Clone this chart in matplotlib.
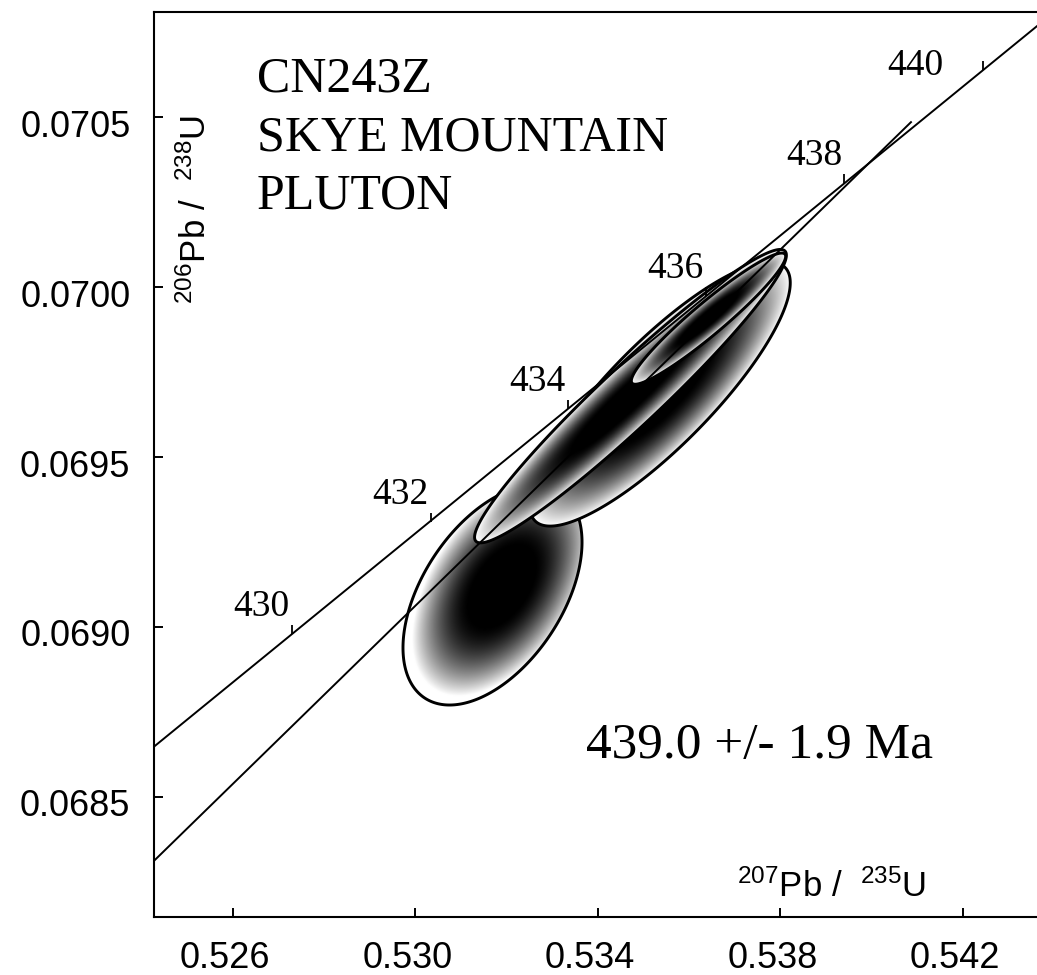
import numpy as np
import matplotlib
matplotlib.use('Agg')
import matplotlib.pyplot as plt
from matplotlib.path import Path
from matplotlib.patches import PathPatch
from matplotlib.transforms import ScaledTranslation

# ---------------- data ----------------
conc_age = [430, 432, 434, 436, 438, 440]
conc_x = [0.52730, 0.53033, 0.53335, 0.53637, 0.53940, 0.54244]
conc_y = [0.068980, 0.069310, 0.069642, 0.069973, 0.070305, 0.070638]

disc_x = [0.52400, 0.54086]
disc_y = [0.068277, 0.070485]

# ellipses: 207/235, 206/238, half-extent x, half-extent y, error correlation
ell_x = [0.531688, 0.535359, 0.534712, 0.536422]
ell_y = [0.069094, 0.069685, 0.069679, 0.069907]
ell_ex = [0.001962, 0.002855, 0.003417, 0.001691]
ell_ey = [0.0003235, 0.0003882, 0.0004315, 0.0001929]
ell_rho = [0.48, 0.843, 0.961, 0.949]

sample_lines = ['CN243Z', 'SKYE MOUNTAIN', 'PLUTON']
age_text = '439.0 +/- 1.9 Ma'
xticks = [0.526, 0.530, 0.534, 0.538, 0.542]
yticks = [0.0685, 0.0690, 0.0695, 0.0700, 0.0705]

# ---------------- style ----------------
plt.rcParams['font.family'] = ['Liberation Sans', 'DejaVu Sans']
plt.rcParams['mathtext.default'] = 'regular'
SERIF = ['Liberation Serif', 'DejaVu Serif']
shade_shift = [(0.10, 0.08), (0.0, 0.0), (0.0, 0.0), (0.0, 0.0)]

fig = plt.figure(figsize=(10.37, 9.75), dpi=100)
ax = fig.add_axes([0.1485, 0.0595, 0.8515, 0.9282])

# ellipses with gradient fill
for i in range(len(ell_x)):
    cx, cy, ex, ey, r = ell_x[i], ell_y[i], ell_ex[i], ell_ey[i], ell_rho[i]
    th = np.linspace(0, 2 * np.pi, 400)
    px = cx + ex * np.cos(th)
    py = cy + ey * (r * np.cos(th) + np.sqrt(1 - r * r) * np.sin(th))
    path = Path(np.column_stack([px, py]), closed=True)
    gx = np.linspace(cx - ex, cx + ex, 500)
    gy = np.linspace(cy - ey, cy + ey, 500)
    GX, GY = np.meshgrid(gx, gy)
    u = (GX - cx) / ex - shade_shift[i][0]
    v = (GY - cy) / ey - shade_shift[i][1]
    rr = np.sqrt(np.clip((u * u - 2 * r * u * v + v * v) / (1 - r * r), 0, None))
    gray = np.clip((rr - 0.36) / 0.64, 0, 1) ** 1.6
    im = ax.imshow(gray, cmap='gray', vmin=0, vmax=1, origin='lower',
                   extent=[cx - ex, cx + ex, cy - ey, cy + ey], aspect='auto',
                   interpolation='bilinear', zorder=2 + 2 * i)
    clip = PathPatch(path, transform=ax.transData, facecolor='none', edgecolor='none')
    im.set_clip_path(clip)
    ax.add_patch(PathPatch(path, facecolor='none', edgecolor='black', lw=2.1,
                           zorder=2.5 + 2 * i))

# concordia and discordia
ax.axline((conc_x[0], conc_y[0]), (conc_x[-1], conc_y[-1]), color='black', lw=1.4, zorder=20)
ax.plot(disc_x, disc_y, color='black', lw=1.4, zorder=20)
tick_marker = Path([(0, 0), (0, 1)])
ax.plot(conc_x, conc_y, ls='none', marker=tick_marker, markersize=13,
        markeredgewidth=1.3, color='black', zorder=21)
for k, (a, x, y) in enumerate(zip(conc_age, conc_x, conc_y)):
    off = (-49, -3.6) if k == len(conc_age) - 1 else (-22, 13)
    ax.annotate(str(a), (x, y), xytext=off, textcoords='offset points',
                ha='center', va='baseline', fontsize=27, family=SERIF, zorder=22)

# texts
for j, (s, yb) in enumerate(zip(sample_lines, [0.9116, 0.8475, 0.7834])):
    ax.text(0.1166, yb, s, transform=ax.transAxes, fontsize=36, family=SERIF,
            ha='left', va='baseline')
ax.text(0.8822, 0.1757, age_text, transform=ax.transAxes, fontsize=37, family=SERIF,
        ha='right', va='baseline')
ax.text(0.6602, 0.0221, r'$^{207}$Pb /  $^{235}$U', transform=ax.transAxes,
        fontsize=25, ha='left', va='baseline')
ax.text(0.047, 0.7823, r'$^{206}$Pb /  $^{238}$U', transform=ax.transAxes,
        fontsize=25, ha='center', va='center', rotation=90)

# axes
ax.set_xlim(0.5242685, 0.543622)
ax.set_ylim(0.068147, 0.070809)
ax.set_xticks(xticks, labels=[f'{v:.3f}' for v in xticks])
ax.set_yticks(yticks, labels=[f'{v:.4f}' for v in yticks])
ax.tick_params(axis='both', direction='in', length=6.5, width=1.4, labelsize=26)
ax.tick_params(axis='x', pad=17)
ax.tick_params(axis='y', pad=17)
ax.spines['right'].set_visible(False)
for s in ['left', 'top', 'bottom']:
    ax.spines[s].set_linewidth(1.5)
for lab in ax.get_xticklabels():
    lab.set_transform(lab.get_transform() + ScaledTranslation(-0.08, 0, fig.dpi_scale_trans))
for lab in ax.get_yticklabels():
    lab.set_transform(lab.get_transform() + ScaledTranslation(0, -0.06, fig.dpi_scale_trans))

fig.savefig('out.png', dpi=100)
